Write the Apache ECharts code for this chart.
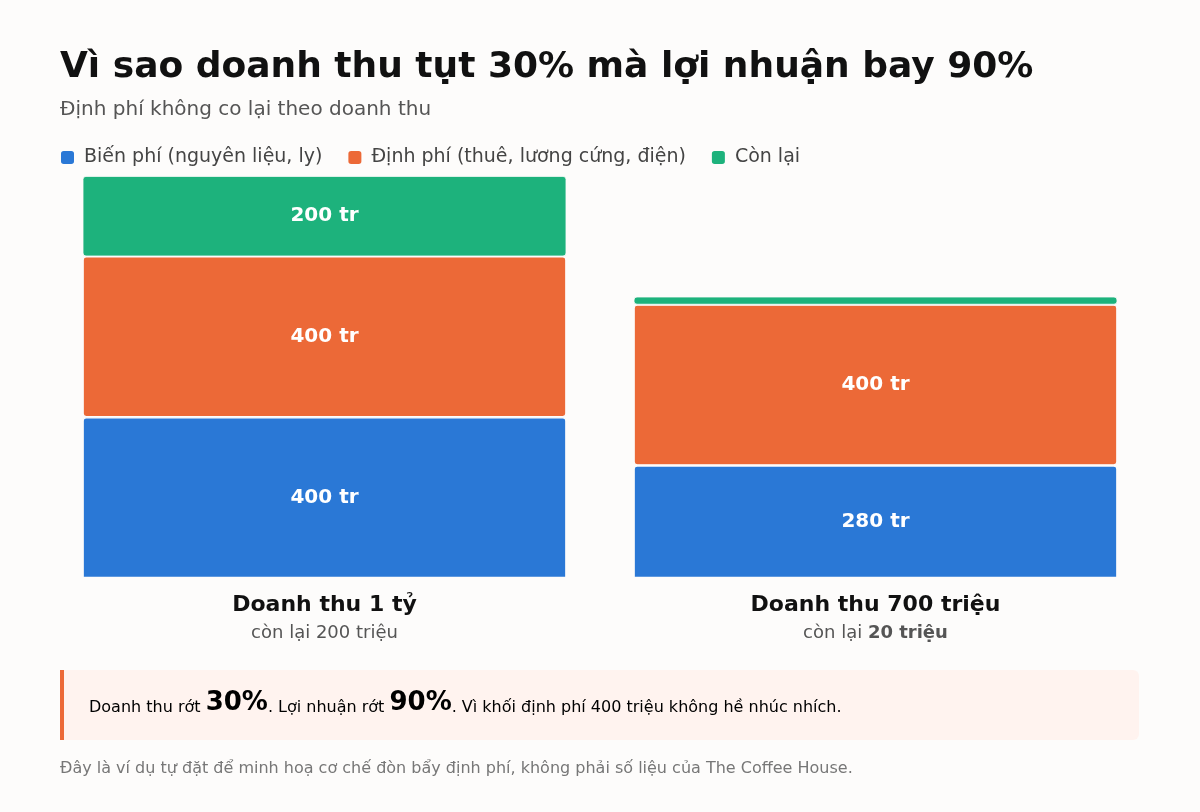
<!DOCTYPE html>
<html>
<head>
<meta charset="utf-8">
<script src="https://cdn.jsdelivr.net/npm/echarts@6/dist/echarts.min.js"></script>
<style>
  html, body { margin: 0; padding: 0; background: #fdfcfb; }
  #chart { width: 1200px; height: 812px; }
</style>
</head>
<body>
<div id="chart"></div>
<script>
var categories = ['Doanh thu 1 tỷ', 'Doanh thu 700 triệu'];
var subLabels = ['200 triệu', '20 triệu'];
var bienPhi = [400, 280];   // biến phí
var dinhPhi = [400, 400];   // định phí
var conLai = [200, 20];     // còn lại

var seriesNames = ['Biến phí (nguyên liệu, ly)', 'Định phí (thuê, lương cứng, điện)', 'Còn lại'];
var colors = ['#2a78d6', '#ec6937', '#1db27c'];
var bg = '#fdfcfb';
var font = '"DejaVu Sans", "Noto Sans", sans-serif';

var myChart = echarts.init(document.getElementById('chart'));

function segLabel(minVal) {
    return {
        show: true,
        position: 'inside',
        color: '#ffffff',
        fontSize: 20,
        fontWeight: 'bold',
        fontFamily: font,
        formatter: function (p) {
            return p.value >= minVal ? p.value + ' tr' : '';
        }
    };
}

var option = {
    backgroundColor: bg,
    animation: false,
    title: {
        text: 'Vì sao doanh thu tụt 30% mà lợi nhuận bay 90%',
        subtext: 'Định phí không co lại theo doanh thu',
        left: 55,
        top: 45,
        itemGap: 14,
        textStyle: { fontFamily: font, fontSize: 36, fontWeight: 'bold', color: '#111111' },
        subtextStyle: { fontFamily: font, fontSize: 20, color: '#555555' }
    },
    legend: {
        left: 54,
        top: 143,
        itemWidth: 15,
        itemHeight: 15,
        itemGap: 24,
        icon: 'roundRect',
        textStyle: { fontFamily: font, fontSize: 19, color: '#444444', padding: [0, 0, 0, 4] },
        data: seriesNames
    },
    grid: { left: 49, right: 49, top: 176, bottom: 234 },
    xAxis: {
        type: 'category',
        data: categories,
        axisLine: { show: false },
        axisTick: { show: false },
        axisLabel: {
            margin: 12,
            formatter: function (v, i) {
                var sub = i === 1 ? '{n|còn lại }{b|' + subLabels[i] + '}' : '{n|còn lại ' + subLabels[i] + '}';
                return '{t|' + v + '}\n' + sub;
            },
            rich: {
                t: { fontFamily: font, fontSize: 22, fontWeight: 'bold', color: '#111111', lineHeight: 30 },
                n: { fontFamily: font, fontSize: 18, color: '#555555', lineHeight: 26 },
                b: { fontFamily: font, fontSize: 18, fontWeight: 'bold', color: '#555555', lineHeight: 26 }
            }
        }
    },
    yAxis: {
        type: 'value',
        min: 0,
        max: 1000,
        show: false
    },
    series: [
        {
            name: seriesNames[0],
            type: 'bar',
            stack: 'total',
            barCategoryGap: '12.2%',
            data: bienPhi,
            itemStyle: { color: colors[0], borderRadius: [3, 3, 0, 0], borderColor: bg, borderWidth: 1.2 },
            label: segLabel(50)
        },
        {
            name: seriesNames[1],
            type: 'bar',
            stack: 'total',
            data: dinhPhi,
            itemStyle: { color: colors[1], borderRadius: 3, borderColor: bg, borderWidth: 1.2 },
            label: segLabel(50)
        },
        {
            name: seriesNames[2],
            type: 'bar',
            stack: 'total',
            data: conLai,
            itemStyle: { color: colors[2], borderRadius: 3, borderColor: bg, borderWidth: 0.8 },
            label: segLabel(50)
        }
    ],
    graphic: [
        {
            type: 'rect',
            left: 60, top: 670,
            shape: { width: 1079, height: 70, r: [0, 6, 6, 0] },
            style: { fill: '#fff3ef' },
            silent: true
        },
        {
            type: 'rect',
            left: 60, top: 670,
            shape: { width: 4, height: 70 },
            style: { fill: '#ec6937' },
            silent: true
        },
        {
            type: 'text',
            left: 89, top: 690,
            style: {
                text: '{a|Doanh thu rớt }{b|30%}{a|. Lợi nhuận rớt }{b|90%}{a|. Vì khối định phí 400 triệu không hề nhúc nhích.}',
                rich: {
                    a: { fontFamily: font, fontSize: 16, color: '#111111', verticalAlign: 'bottom', lineHeight: 30 },
                    b: { fontFamily: font, fontSize: 26, fontWeight: 'bold', color: '#111111', verticalAlign: 'bottom', lineHeight: 30 }
                }
            },
            silent: true
        },
        {
            type: 'text',
            left: 60, top: 761,
            style: {
                text: 'Đây là ví dụ tự đặt để minh hoạ cơ chế đòn bẩy định phí, không phải số liệu của The Coffee House.',
                fontFamily: font, fontSize: 16, fill: '#777777'
            },
            silent: true
        }
    ]
};

myChart.setOption(option);
</script>
</body>
</html>
